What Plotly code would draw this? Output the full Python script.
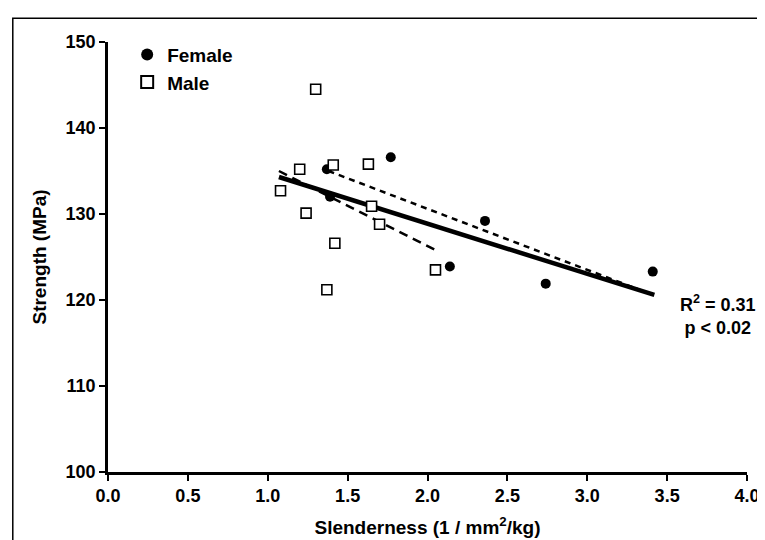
import plotly.graph_objects as go

# Female specimens (filled circles)
female_x = [1.37, 1.39, 1.77, 2.14, 2.36, 2.74, 3.41]
female_y = [135.2, 132.0, 136.6, 123.9, 129.2, 121.9, 123.3]

# Male specimens (open squares)
male_x = [1.08, 1.20, 1.24, 1.30, 1.37, 1.41, 1.42, 1.63, 1.65, 1.70, 2.05]
male_y = [132.7, 135.2, 130.1, 144.5, 121.2, 135.7, 126.6, 135.8, 130.9, 128.8, 123.5]

# regression line end points
fit_all_x = [1.07, 3.42]
fit_all_y = [134.3, 120.6]
fit_female_x = [1.38, 3.41]
fit_female_y = [135.0, 120.6]
fit_male_x = [1.07, 2.05]
fit_male_y = [135.0, 125.8]

FONT = "Liberation Sans, Arial, sans-serif"

fig = go.Figure()

fig.add_scatter(
    x=fit_all_x, y=fit_all_y, mode="lines", showlegend=False,
    line=dict(color="black", width=4.5),
)
fig.add_scatter(
    x=fit_female_x, y=fit_female_y, mode="lines", showlegend=False,
    line=dict(color="black", width=2.5, dash="6px,5px"),
)
fig.add_scatter(
    x=fit_male_x, y=fit_male_y, mode="lines", showlegend=False,
    line=dict(color="black", width=2.5, dash="9px,6px"),
)
fig.add_scatter(
    x=female_x, y=female_y, mode="markers", name="Female",
    marker=dict(symbol="circle", size=10, color="black"),
)
fig.add_scatter(
    x=male_x, y=male_y, mode="markers", name="Male",
    marker=dict(symbol="square", size=10, color="white",
                line=dict(color="black", width=1.6)),
)

fig.add_annotation(
    x=3.82, y=118.2, xref="x", yref="y", showarrow=False, align="center",
    text="R<sup>2</sup> = 0.31<br>p &lt; 0.02",
    font=dict(family=FONT, size=18, color="black", weight="bold"),
)

# frame around the whole picture
fig.add_shape(
    type="rect", xref="paper", yref="paper",
    x0=-0.149, x1=1.035, y0=-0.17, y1=1.055,
    line=dict(color="black", width=1.5),
)

axis_common = dict(
    showgrid=False, zeroline=False, showline=True, linecolor="black",
    linewidth=2.5, ticks="outside", ticklen=6, tickwidth=2, tickcolor="black",
    tickfont=dict(family=FONT, size=18, color="black", weight="bold"),
)

fig.update_layout(
    width=765, height=540,
    margin=dict(l=100, r=26, t=34, b=71),
    paper_bgcolor="white", plot_bgcolor="white",
    xaxis=dict(
        range=[0, 4], tickvals=[0, 0.5, 1, 1.5, 2, 2.5, 3, 3.5, 4],
        ticktext=["0.0", "0.5", "1.0", "1.5", "2.0", "2.5", "3.0", "3.5", "4.0"],
        title=dict(text="Slenderness (1 / mm<sup>2</sup>/kg)", standoff=16,
                   font=dict(family=FONT, size=19, color="black", weight="bold")),
        **axis_common,
    ),
    yaxis=dict(
        range=[100, 150], tickvals=[100, 110, 120, 130, 140, 150],
        title=dict(text="Strength (MPa)", standoff=14,
                   font=dict(family=FONT, size=19, color="black", weight="bold")),
        **axis_common,
    ),
    legend=dict(
        x=0.03, y=1.015, xanchor="left", yanchor="top", bgcolor="rgba(0,0,0,0)",
        font=dict(family=FONT, size=19, color="black", weight="bold"),
        tracegroupgap=0, itemsizing="constant",
    ),
)

fig.write_html("out.html")
